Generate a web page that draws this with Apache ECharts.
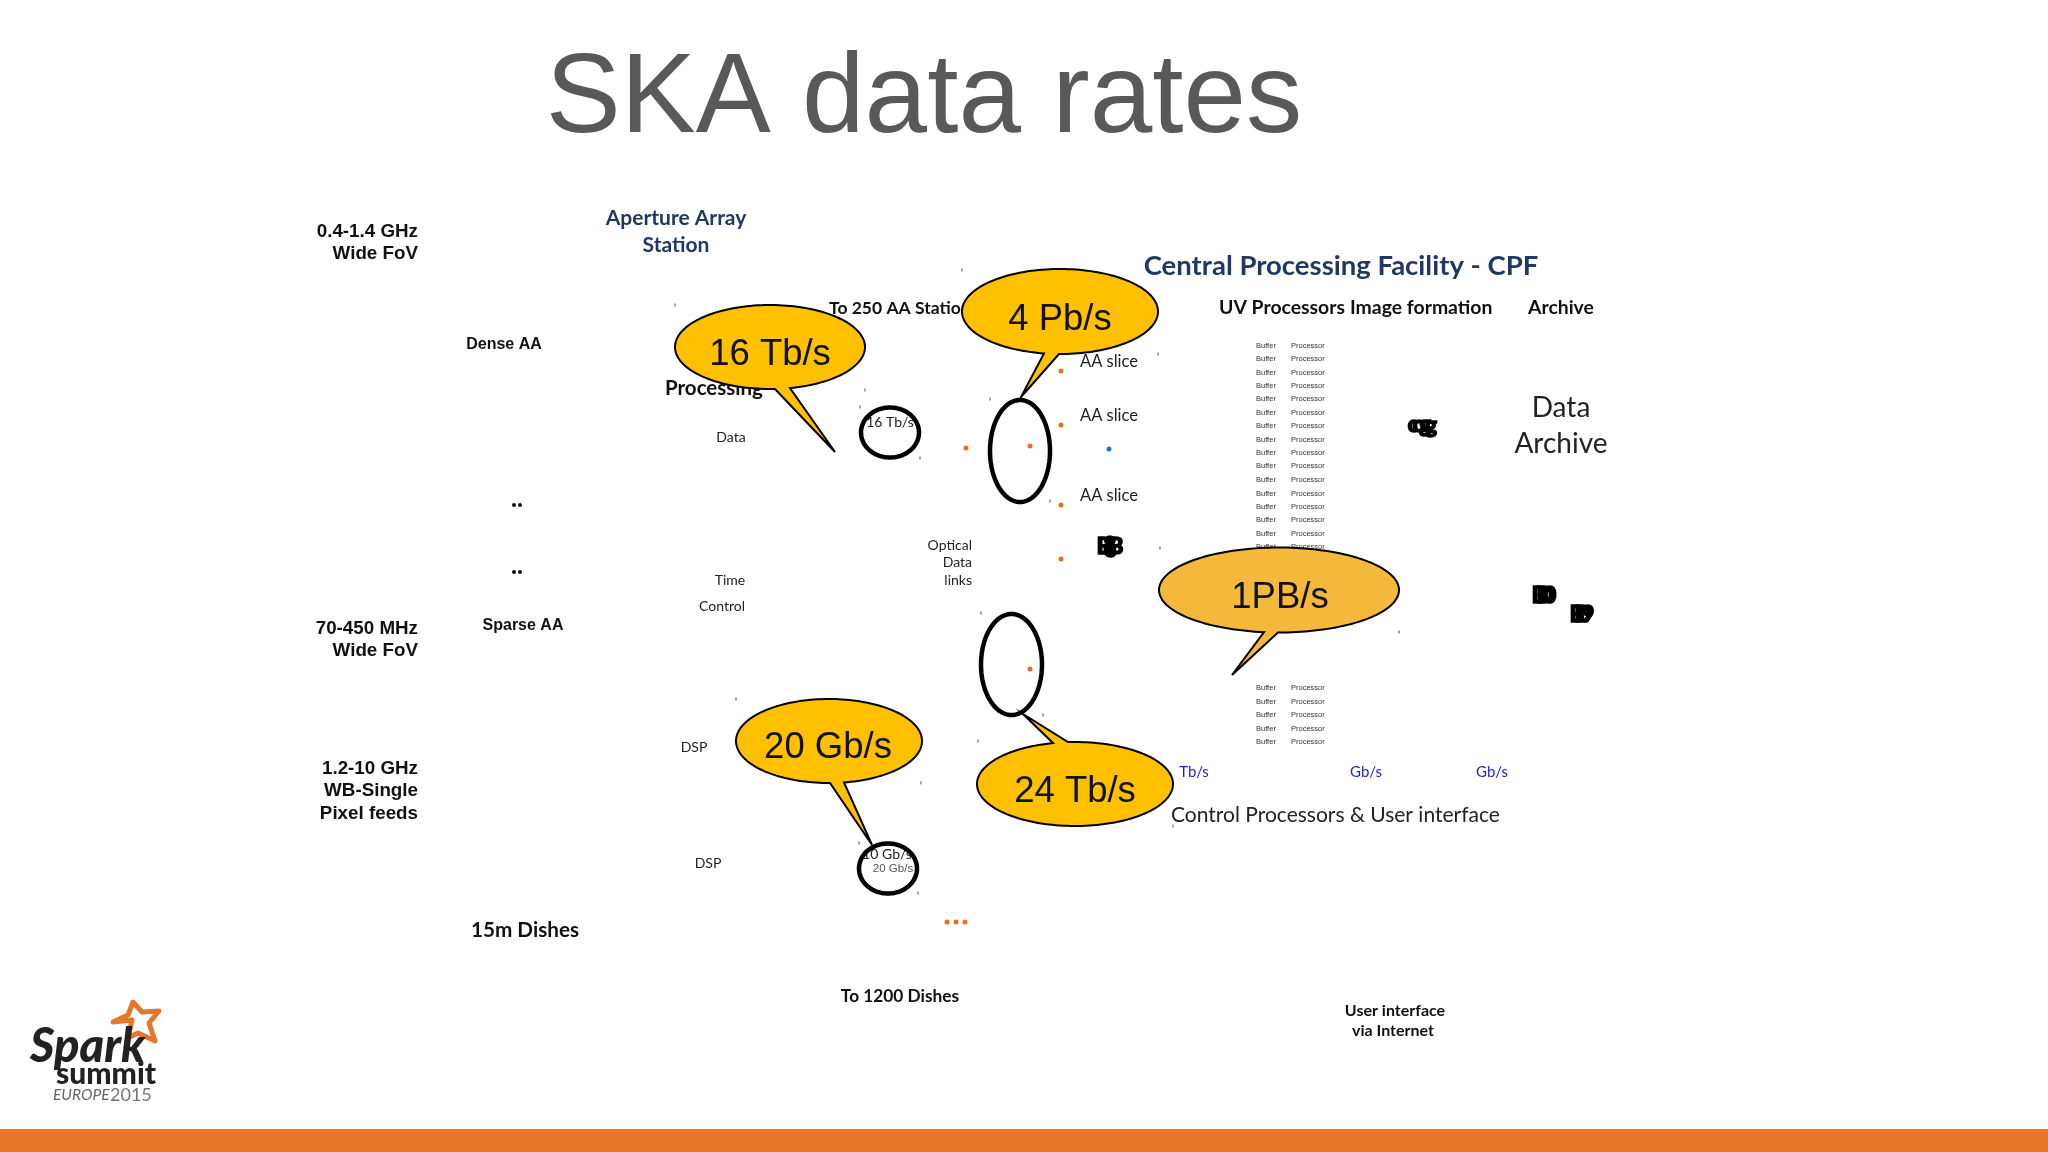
<!DOCTYPE html>
<html>
<head>
<meta charset="utf-8">
<title>SKA data rates</title>
<script src="https://cdn.jsdelivr.net/npm/echarts@6/dist/echarts.min.js"></script>
<style>
html, body { margin: 0; padding: 0; background: #fff; }
#main { width: 2048px; height: 1152px; }
</style>
</head>
<body>
<div id="main"></div>
<script>
// every row is x, y on the slide and the text
var title = [[924, 101, "SKA data rates"]];
var bandLabels = [
    [418, 232, "0.4-1.4 GHz"], [418, 254, "Wide FoV"],
    [418, 629, "70-450 MHz"], [418, 651, "Wide FoV"],
    [418, 769, "1.2-10 GHz"], [418, 791, "WB-Single"], [418, 814, "Pixel feeds"]
];
var feedLabels = [[504, 345, "Dense AA"], [523, 626, "Sparse AA"]];
var navyLabels = [[676, 218, "Aperture Array"], [676, 245, "Station"]];
var cpfTitle = [[1341, 266, "Central Processing Facility - CPF"]];
var boldHeads = [
    [829, 308, "To 250 AA Stations"], [665, 388, "Processing"],
    [1219, 308, "UV Processors"], [1350, 308, "Image formation"], [1528, 308, "Archive"]
];
var boldSmall = [[1395, 1011, "User interface"], [1393, 1031, "via Internet"]];
var toDishes = [[900, 996, "To 1200 Dishes"]];
var dishes = [[471, 930, "15m Dishes"]];
var aaSlices = [[1080, 362, "AA slice"], [1080, 416, "AA slice"], [1080, 496, "AA slice"]];
var controlLabel = [[1171, 815, "Control Processors & User interface"]];
var smallCenter = [
    [731, 437, "Data"], [730, 580, "Time"], [722, 606, "Control"],
    [694, 747, "DSP"], [708, 863, "DSP"], [890, 422, "16 Tb/s"], [887, 854, "10 Gb/s"]
];
var opticalLabels = [[972, 545, "Optical"], [972, 562, "Data"], [972, 580, "links"]];
var archiveLabels = [[1561, 408, "Data"], [1561, 444, "Archive"]];
var rateLabels = [[1194, 772, "Tb/s"], [1366, 772, "Gb/s"], [1492, 772, "Gb/s"]];
var grayRate = [[893, 869, "20 Gb/s"]];
var bubbleText = [
    [770, 355, "16 Tb/s"], [1060, 320, "4 Pb/s"], [1280, 598, "1PB/s"],
    [828, 748, "20 Gb/s"], [1075, 792, "24 Tb/s"]
];

var bufferRowsY = [346, 359, 373, 386, 399, 413, 426, 440, 453, 466, 480, 494, 507, 520, 534, 547, 688, 702, 715, 729, 742];
var bufferX = 1256;
var processorX = 1291;

// garbled overlapping glyphs of the source slide
var blobs = [
    [1413, 425, "c"], [1419, 425, "o"], [1425, 425, "g"], [1431, 426, "g"],
    [1104, 547, "B"], [1110, 546, "8"], [1116, 547, "B"], [1110, 550, "e"],
    [1539, 596, "B"], [1545, 596, "D"], [1550, 596, "0"],
    [1577, 615, "B"], [1583, 615, "D"], [1588, 615, "9"]
];

// cx, cy, rx, ry, tail base left x, tail base right x, tip x, tip y
var callouts = [
    [770, 347, 95, 42, 775, 790, 835, 452],
    [1060, 311.5, 98, 42.5, 1044, 1059, 1021, 397],
    [1279, 590, 120, 42.5, 1264, 1278, 1232, 675],
    [829, 741, 93, 42, 830, 844, 872, 845],
    [1075, 784, 98, 42, 1053, 1068, 1023, 714]
];
var calloutFills = ["#ffc000", "#ffc000", "#f4b93a", "#ffc000", "#ffc000"];

// cx, cy, rx, ry
var rings = [
    [890, 432.5, 29, 25],
    [1020, 451, 30, 51],
    [1011.5, 664.5, 30.5, 50.5],
    [888, 868.5, 29, 25]
];

var orangeDots = [
    [1061, 371], [1061, 425], [1030, 446], [966, 448], [1061, 505], [1061, 559],
    [1030, 669], [947, 922], [956, 922], [965, 922]
];
var blueDots = [[1109, 449]];
var blackDots = [[514, 505], [520, 505], [514, 572], [520, 572]];
var specks = [
    [962, 270], [675, 305], [865, 390], [860, 407], [920, 458], [990, 399], [1050, 501],
    [1158, 354], [1160, 548], [1399, 632], [1173, 826], [981, 613], [1043, 715],
    [978, 741], [736, 699], [921, 783], [859, 843], [918, 893]
];

var footer = [[0, 1129, 2048, 1152]];
var starX = [133, 142, 159, 149, 155, 138, 128, 132, 113, 128];
var starY = [1002, 1012, 1011, 1023, 1041, 1033, 1038, 1020, 1022, 1015];
var logoSpark = [[30, 1047, "Spark"]];
var logoSummit = [[56, 1074, "summit"]];
var logoEurope = [[53, 1095, "EUROPE"]];
var logoYear = [[110, 1095, "2015"]];

function buildRows() {
    var buf = [], proc = [];
    for (var i = 0; i < bufferRowsY.length; i++) {
        buf.push([bufferX, bufferRowsY[i], "Buffer"]);
        proc.push([processorX, bufferRowsY[i], "Processor"]);
    }
    return buf.concat(proc);
}

function labelSeries(rows, z, font, weight, size, color, align, italic, border) {
    return {
        type: "scatter",
        z: z,
        symbolSize: 0,
        silent: true,
        clip: false,
        itemStyle: { opacity: 1 },
        data: rows,
        label: {
            show: true,
            position: "inside",
            formatter: function (p) { return p.value[2]; },
            fontFamily: font,
            fontWeight: weight,
            fontStyle: italic ? "italic" : "normal",
            fontSize: size,
            color: color,
            align: align,
            verticalAlign: "middle",
            textBorderColor: border ? color : "transparent",
            textBorderWidth: border || 0
        }
    };
}

function dotSeries(rows, z, size, color, symbol) {
    return {
        type: "scatter",
        z: z,
        silent: true,
        symbol: symbol || "circle",
        symbolSize: size,
        itemStyle: { color: color, opacity: 1 },
        data: rows
    };
}

// ellipse with a tail, as one outline
function calloutItem(params, api) {
    var c = api.coord([api.value(0), api.value(1)]);
    var size = api.size([api.value(2), api.value(3)]);
    var rx = size[0], ry = size[1];
    var b1 = api.coord([api.value(4), api.value(1)])[0];
    var b2 = api.coord([api.value(5), api.value(1)])[0];
    var tip = api.coord([api.value(6), api.value(7)]);
    var s = tip[1] > c[1] ? 1 : -1;
    function angle(bx) {
        var u = (bx - c[0]) / rx;
        return Math.atan2(s * Math.sqrt(1 - u * u), u);
    }
    var a1 = angle(b1), a2 = angle(b2);
    var start = Math.max(a1, a2), end = Math.min(a1, a2) + Math.PI * 2;
    var pts = [];
    for (var i = 0; i <= 160; i++) {
        var t = start + (end - start) * i / 160;
        pts.push([c[0] + rx * Math.cos(t), c[1] + ry * Math.sin(t)]);
    }
    pts.push(tip);
    return {
        type: "polygon",
        shape: { points: pts },
        style: { fill: calloutFills[params.dataIndex], stroke: "#000", lineWidth: 2, lineJoin: "miter" }
    };
}

function ringItem(params, api) {
    var c = api.coord([api.value(0), api.value(1)]);
    var size = api.size([api.value(2), api.value(3)]);
    var pts = [];
    for (var i = 0; i < 120; i++) {
        var t = i / 120 * Math.PI * 2;
        pts.push([c[0] + size[0] * Math.cos(t), c[1] + size[1] * Math.sin(t)]);
    }
    return {
        type: "polygon",
        shape: { points: pts },
        style: { fill: "none", stroke: "#000", lineWidth: 4.5 }
    };
}

function footerItem(params, api) {
    var a = api.coord([api.value(0), api.value(1)]);
    var b = api.coord([api.value(2), api.value(3)]);
    return {
        type: "rect",
        shape: { x: a[0], y: a[1], width: b[0] - a[0], height: b[1] - a[1] },
        style: { fill: "#e5762a" }
    };
}

function starItem(params, api) {
    var pts = starX.map(function (x, i) { return api.coord([x, starY[i]]); });
    return {
        type: "polygon",
        shape: { points: pts },
        style: { fill: "none", stroke: "#e5762a", lineWidth: 5, lineJoin: "round" }
    };
}

var LATO = "Lato";
var ARIAL = "Liberation Sans";

var myChart = echarts.init(document.getElementById("main"));
var option = {
    animation: false,
    backgroundColor: "#fff",
    grid: { left: 0, right: 0, top: 0, bottom: 0 },
    xAxis: { type: "value", min: 0, max: 2048, show: false },
    yAxis: { type: "value", min: 0, max: 1152, inverse: true, show: false },
    series: [
        { type: "custom", z: 1, silent: true, clip: false, renderItem: footerItem, encode: { x: [0, 2], y: [1, 3] }, data: footer },
        dotSeries(specks, 2, [1.5, 3], "#888", "rect"),
        dotSeries(orangeDots, 2, 5, "#ed6c24"),
        dotSeries(blueDots, 2, 5, "#1479c0"),
        dotSeries(blackDots, 2, 4, "#111"),
        labelSeries(title, 3, ARIAL, "normal", 112.5, "#595959", "center"),
        labelSeries(bandLabels, 3, ARIAL, "bold", 18.8, "#111", "right"),
        labelSeries(feedLabels, 3, ARIAL, "bold", 16, "#111", "center"),
        labelSeries(navyLabels, 3, LATO, "bold", 21, "#1f3864", "center"),
        labelSeries(cpfTitle, 3, LATO, "bold", 27.5, "#1f3864", "center"),
        labelSeries(boldHeads.slice(0, 1), 3, LATO, "bold", 17.5, "#111", "left"),
        labelSeries(boldHeads.slice(1, 2), 3, LATO, "bold", 20.5, "#111", "left"),
        labelSeries(boldHeads.slice(2), 3, LATO, "bold", 19.4, "#111", "left"),
        labelSeries(boldSmall, 3, LATO, "bold", 16, "#111", "center"),
        labelSeries(toDishes, 3, LATO, "bold", 17.3, "#111", "center"),
        labelSeries(dishes, 3, LATO, "bold", 20.7, "#111", "left"),
        labelSeries(aaSlices, 3, LATO, "normal", 16.5, "#222", "left"),
        labelSeries(controlLabel, 3, LATO, "normal", 21, "#222", "left"),
        labelSeries(smallCenter, 3, LATO, "normal", 14, "#222", "center"),
        labelSeries(opticalLabels, 3, LATO, "normal", 14, "#222", "right"),
        labelSeries(archiveLabels, 3, LATO, "normal", 28, "#222", "center"),
        labelSeries(rateLabels, 3, LATO, "normal", 15, "#1f1fc8", "center"),
        labelSeries(grayRate, 3, ARIAL, "normal", 11.5, "#555", "center"),
        labelSeries(buildRows(), 3, ARIAL, "normal", 7.5, "#333", "left"),
        labelSeries(blobs, 3, LATO, 900, 22, "#000", "center", false, 1.5),
        { type: "custom", z: 4, silent: true, clip: false, renderItem: starItem, data: [[starX[0], starY[0]]] },
        labelSeries(logoSpark, 5, LATO, 900, 47, "#222", "left", true),
        labelSeries(logoSummit, 5, LATO, 900, 30, "#222", "left"),
        labelSeries(logoEurope, 5, LATO, "normal", 15.5, "#666", "left", true),
        labelSeries(logoYear, 5, LATO, "normal", 18, "#777", "left"),
        { type: "custom", z: 6, silent: true, clip: false, renderItem: ringItem, data: rings },
        { type: "custom", z: 7, silent: true, clip: false, renderItem: calloutItem, data: callouts },
        labelSeries(bubbleText, 8, ARIAL, "normal", 36.5, "#111", "center")
    ]
};
myChart.setOption(option);
</script>
</body>
</html>
